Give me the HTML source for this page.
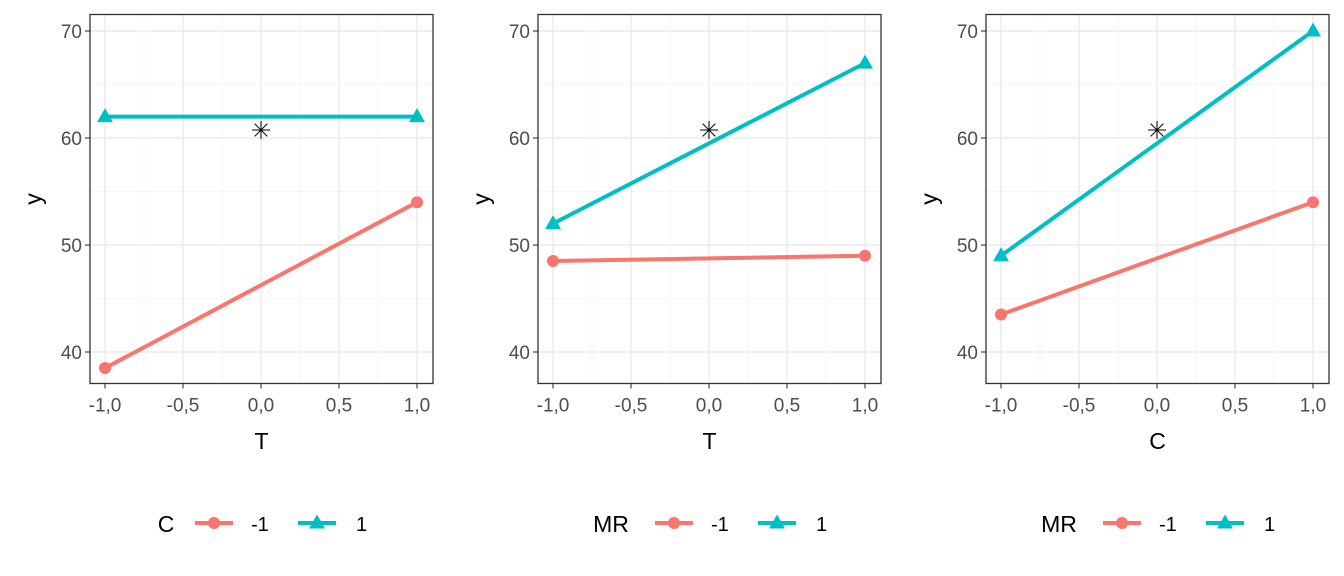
<!DOCTYPE html>
<html><head><meta charset="utf-8"><style>
body{margin:0;background:#fff;width:1344px;height:576px;overflow:hidden}
svg{display:block;font-family:"Liberation Sans",sans-serif}
</style></head><body>
<svg id="c" width="1344" height="576"></svg>
<script>
const xTicks=[-1,-0.5,0,0.5,1];
const xTickLabels=["-1,0","-0,5","0,0","0,5","1,0"];
const yTicks=[40,50,60,70];
const xLevels=[-1,1];
const panelXTitles=["T","T","C"];
const legendTitles=["C","MR","MR"];
const legendLabels=["-1","1"];
const lowSeries=[[38.5,54],[48.5,49],[43.5,54]];
const highSeries=[[62,62],[52,67],[49,70]];
const centerPoint=[0,60.75];

const svg=document.getElementById('c');
const NS='http://www.w3.org/2000/svg';
function mk(tag,attrs,parent){const e=document.createElementNS(NS,tag);for(const k in attrs)e.setAttribute(k,attrs[k]);(parent||svg).appendChild(e);return e;}
const RED='#F8766D',CYAN='#00BFC4';
const pTop=14.5,pBot=383.5;
function ys(v){return 31+(70-v)*10.7;}
function tri(x,y,g){return mk('polygon',{points:`${x},${y-8.5} ${x-8},${y+5.5} ${x+8},${y+5.5}`,fill:CYAN},g);}
for(let p=0;p<3;p++){
  const off=p*448;
  const L=90+off,R=433+off;
  const xs=v=>105+off+(v+1)*156;
  const g=mk('g',{});
  
  
  mk('rect',{x:L,y:pTop,width:R-L,height:pBot-pTop,fill:'#fff'},g);
  [45,55,65].forEach(v=>mk('line',{x1:L,x2:R,y1:ys(v),y2:ys(v),stroke:'#f3f3f3','stroke-width':0.8},g));
  [-0.75,-0.25,0.25,0.75].forEach(v=>mk('line',{x1:xs(v),x2:xs(v),y1:pTop,y2:pBot,stroke:'#f3f3f3','stroke-width':0.8},g));
  yTicks.forEach(v=>{mk('line',{x1:L,x2:R,y1:ys(v),y2:ys(v),stroke:'#ebebeb','stroke-width':1.4},g);
    mk('line',{x1:L-5,x2:L,y1:ys(v),y2:ys(v),stroke:'#333','stroke-width':1.1},g);
    const t=mk('text',{x:L-8,y:ys(v)+7,'text-anchor':'end','font-size':19,fill:'#4d4d4d'},g);t.textContent=v;
    });
  xTicks.forEach((v,i)=>{mk('line',{x1:xs(v),x2:xs(v),y1:pTop,y2:pBot,stroke:'#ebebeb','stroke-width':1.4},g);
    mk('line',{x1:xs(v),x2:xs(v),y1:pBot,y2:pBot+5,stroke:'#333','stroke-width':1.1},g);
    const t=mk('text',{x:xs(v),y:pBot+28,'text-anchor':'middle','font-size':19,fill:'#4d4d4d'},g);t.textContent=xTickLabels[i];
    });
  const lp=lowSeries[p].map((v,i)=>`${xs(xLevels[i])},${ys(v)}`).join(' ');
  const hp=highSeries[p].map((v,i)=>`${xs(xLevels[i])},${ys(v)}`).join(' ');
  const l1=mk('polyline',{points:lp,fill:'none',stroke:RED,'stroke-width':4},g);
  
  lowSeries[p].forEach((v,i)=>mk('circle',{cx:xs(xLevels[i]),cy:ys(v),r:6,fill:RED},g));
  const l2=mk('polyline',{points:hp,fill:'none',stroke:CYAN,'stroke-width':4},g);
  
  highSeries[p].forEach((v,i)=>tri(xs(xLevels[i]),ys(v),g));
  const cx=xs(centerPoint[0]),cy=ys(centerPoint[1]);
  const st=mk('g',{stroke:'#000','stroke-width':1},g);
  
  for(let a=0;a<4;a++){const an=a*Math.PI/4;mk('line',{x1:cx-9*Math.cos(an),y1:cy-9*Math.sin(an),x2:cx+9*Math.cos(an),y2:cy+9*Math.sin(an)},st);}
  mk('rect',{x:L,y:pTop,width:R-L,height:pBot-pTop,fill:'none',stroke:'#333','stroke-width':1.3},g);
  const xt=mk('text',{x:(L+R)/2,y:449,'text-anchor':'middle','font-size':23,fill:'#000'},g);xt.textContent=panelXTitles[p];
  
  const yt=mk('text',{x:0,y:0,'text-anchor':'middle','font-size':23,fill:'#000',transform:`translate(${41+off},${(pTop+pBot)/2}) rotate(-90)`},g);yt.textContent='y';
  
  const lg=mk('g',{},g);
  
  const titleX=p===0?166:163+off;
  const lt=mk('text',{x:titleX,y:532,'text-anchor':'middle','font-size':23,fill:'#000'},lg);lt.textContent=legendTitles[p];
  const k1=p===0?195:207+off;
  mk('line',{x1:k1,x2:k1+38,y1:523,y2:523,stroke:RED,'stroke-width':4},lg);
  mk('circle',{cx:k1+19,cy:523,r:6,fill:RED},lg);
  const t1=mk('text',{x:k1+56,y:531,'font-size':20,fill:'#000'},lg);t1.textContent=legendLabels[0];
  const k2=k1+103;
  mk('line',{x1:k2,x2:k2+38,y1:523,y2:523,stroke:CYAN,'stroke-width':4},lg);
  tri(k2+19,523,lg);
  const t2=mk('text',{x:k2+58,y:531,'font-size':20,fill:'#000'},lg);t2.textContent=legendLabels[1];
}
</script>
</body></html>
